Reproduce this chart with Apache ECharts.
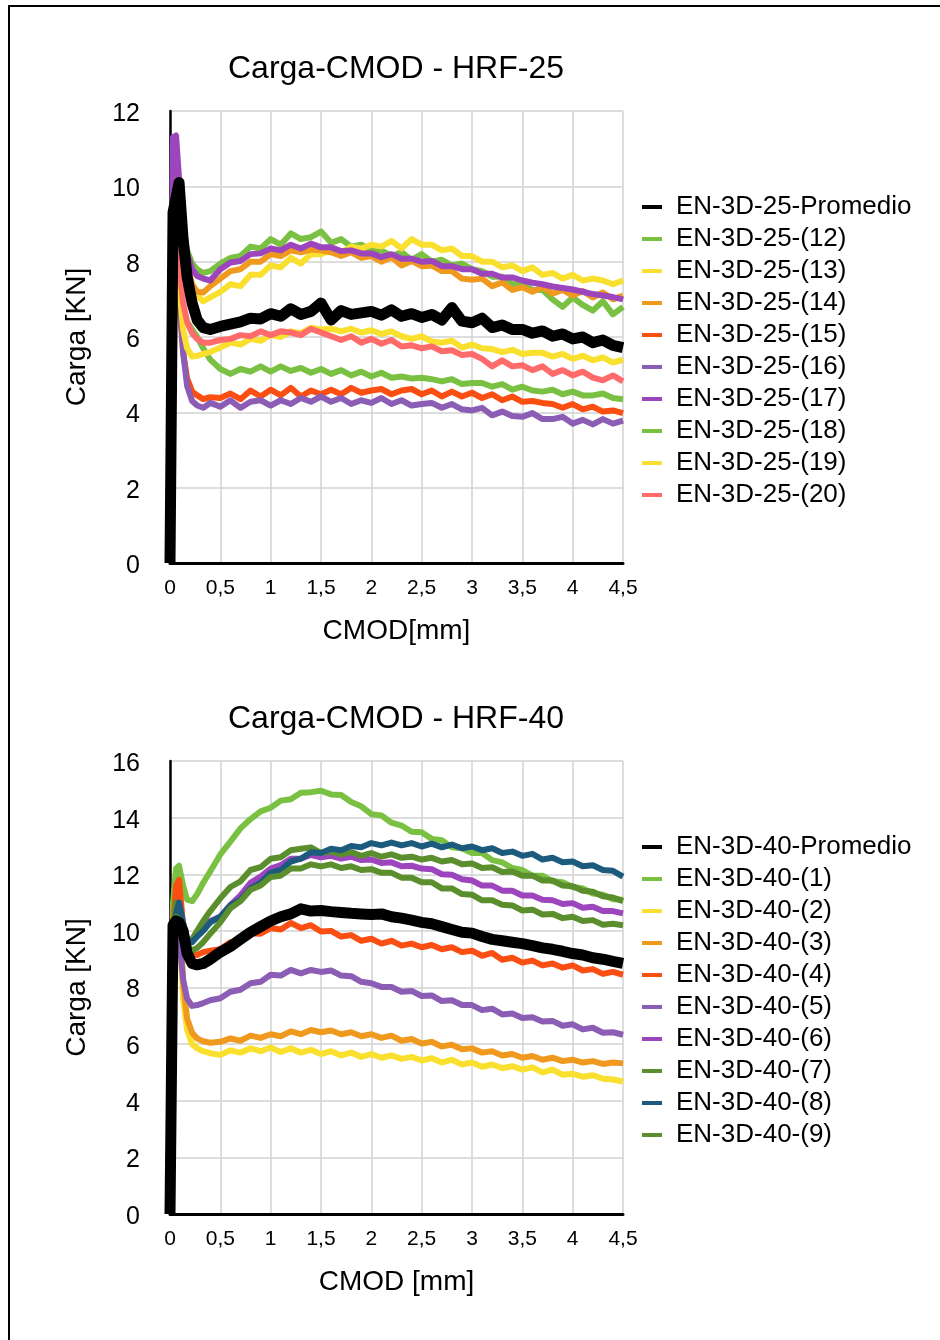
<!DOCTYPE html>
<html><head><meta charset="utf-8">
<script src="https://cdn.jsdelivr.net/npm/echarts@6/dist/echarts.min.js"></script>
<style>html,body{margin:0;padding:0;background:#fff}#c{width:940px;height:1340px}</style>
</head><body><div id="c"></div>
<script>
// CMOD (mm) sample positions shared by all series
const CMOD = [0, 0.03, 0.06, 0.09, 0.13, 0.17, 0.22, 0.27, 0.33, 0.4,
  0.5, 0.6, 0.7, 0.8, 0.9, 1, 1.1, 1.2, 1.3, 1.4,
  1.5, 1.6, 1.7, 1.8, 1.9, 2, 2.1, 2.2, 2.3, 2.4,
  2.5, 2.6, 2.7, 2.8, 2.9, 3, 3.1, 3.2, 3.3, 3.4,
  3.5, 3.6, 3.7, 3.8, 3.9, 4, 4.1, 4.2, 4.3, 4.4,
  4.5];

const X_TICKS = [0, 0.5, 1, 1.5, 2, 2.5, 3, 3.5, 4, 4.5];
const Y_TICKS_25 = [0, 2, 4, 6, 8, 10, 12];
const Y_TICKS_40 = [0, 2, 4, 6, 8, 10, 12, 14, 16];

// ---------- HRF-25 (Carga kN) ----------
const names25 = ['EN-3D-25-Promedio','EN-3D-25-(12)','EN-3D-25-(13)','EN-3D-25-(14)','EN-3D-25-(15)','EN-3D-25-(16)','EN-3D-25-(17)','EN-3D-25-(18)','EN-3D-25-(19)','EN-3D-25-(20)'];
const avg25 = [0, 9.3, 9.7, 10.1, 8.6, 7.6, 6.9, 6.45, 6.25, 6.2,
  6.28, 6.34, 6.4, 6.5, 6.48, 6.62, 6.55, 6.75, 6.6, 6.68,
  6.9, 6.45, 6.7, 6.6, 6.64, 6.68, 6.58, 6.72, 6.55, 6.62,
  6.52, 6.6, 6.45, 6.78, 6.42, 6.38, 6.5, 6.25, 6.32, 6.2,
  6.2, 6.1, 6.16, 6.02, 6.08, 5.95, 6.0, 5.85, 5.92, 5.78,
  5.72];
const s12 = [0, 8.8, 9.8, 9.6, 8.9, 8.3, 7.95, 7.8, 7.7, 7.75,
  7.95, 8.1, 8.15, 8.4, 8.35, 8.6, 8.45, 8.75, 8.6, 8.65,
  8.8, 8.5, 8.6, 8.4, 8.45, 8.3, 8.3, 8.15, 8.25, 8.05,
  8.2, 8.0, 8.05, 7.9, 7.95, 7.8, 7.75, 7.6, 7.6, 7.4,
  7.4, 7.25, 7.25, 7.0, 6.8, 7.05, 6.85, 6.7, 6.95, 6.6,
  6.8];
const s13 = [0, 8.5, 9.6, 9.4, 8.6, 7.8, 7.3, 7.1, 6.95, 7.05,
  7.2, 7.4, 7.35, 7.65, 7.65, 7.9, 7.85, 8.1, 7.95, 8.2,
  8.2, 8.3, 8.25, 8.4, 8.35, 8.45, 8.4, 8.55, 8.35, 8.6,
  8.45, 8.45, 8.3, 8.35, 8.15, 8.15, 8.0, 8.0, 7.85, 7.9,
  7.75, 7.85, 7.65, 7.7, 7.55, 7.65, 7.5, 7.55, 7.5, 7.4,
  7.5];
const s14 = [0, 9.0, 10.2, 9.8, 8.7, 7.9, 7.4, 7.2, 7.18, 7.35,
  7.55, 7.75, 7.8, 8.0, 8.0, 8.2, 8.15, 8.3, 8.25, 8.32,
  8.3, 8.25, 8.15, 8.25, 8.1, 8.15, 8.0, 8.12, 7.9, 8.02,
  7.88, 7.9, 7.75, 7.75, 7.55, 7.52, 7.55, 7.35, 7.45, 7.25,
  7.32, 7.2, 7.32, 7.15, 7.25, 7.1, 7.22, 7.05, 7.18, 7.0,
  7.1];
const s15 = [0, 9.0, 9.6, 7.0, 5.6, 4.9, 4.55, 4.45, 4.35, 4.4,
  4.38, 4.5, 4.35, 4.58, 4.42, 4.6, 4.45, 4.65, 4.42, 4.58,
  4.48, 4.6, 4.48, 4.65, 4.52, 4.58, 4.62, 4.48, 4.58, 4.62,
  4.48, 4.58, 4.42, 4.55, 4.42, 4.52, 4.38, 4.48, 4.32, 4.42,
  4.28, 4.3, 4.25, 4.22, 4.12, 4.22, 4.08, 4.15, 4.02, 4.05,
  3.98];
const s16 = [0, 8.8, 9.5, 7.4, 5.6, 4.7, 4.3, 4.18, 4.12, 4.25,
  4.15, 4.32, 4.12, 4.28, 4.32, 4.18, 4.32, 4.22, 4.38, 4.28,
  4.42, 4.28, 4.38, 4.22, 4.32, 4.25, 4.38, 4.22, 4.32, 4.18,
  4.22, 4.25, 4.12, 4.22, 4.08, 4.05, 4.12, 3.92, 4.02, 3.9,
  3.88, 3.98, 3.82, 3.82, 3.88, 3.7, 3.8, 3.68, 3.82, 3.7,
  3.78];
const s17 = [0, 11.3, 11.35, 10.2, 8.9, 8.2, 7.8, 7.62, 7.55, 7.5,
  7.8, 7.98, 8.02, 8.2, 8.22, 8.35, 8.3, 8.45, 8.35, 8.48,
  8.38, 8.38, 8.28, 8.3, 8.22, 8.22, 8.12, 8.2, 8.08, 8.08,
  8.0, 8.02, 7.88, 7.88, 7.8, 7.8, 7.68, 7.68, 7.58, 7.58,
  7.5, 7.44, 7.4, 7.34, 7.3, 7.26, 7.2, 7.14, 7.1, 7.06,
  7.0];
const s18 = [0, 8.6, 9.5, 7.6, 6.8, 6.4, 6.2, 6.0, 5.7, 5.4,
  5.15, 5.02, 5.15, 5.08, 5.22, 5.08, 5.22, 5.1, 5.18, 5.05,
  5.15, 5.02, 5.12, 4.98, 5.08, 4.95, 5.05, 4.92, 4.95, 4.9,
  4.92, 4.88, 4.82, 4.88, 4.75, 4.78, 4.78, 4.68, 4.75, 4.6,
  4.68, 4.58, 4.55, 4.6, 4.48, 4.55, 4.45, 4.45, 4.5, 4.38,
  4.35];
const s19 = [0, 8.5, 9.3, 7.5, 6.2, 5.7, 5.48, 5.5, 5.55, 5.6,
  5.72, 5.85, 5.8, 5.95, 5.9, 6.05, 6.0, 6.15, 6.1, 6.25,
  6.2, 6.22, 6.15, 6.22, 6.12, 6.18, 6.08, 6.15, 6.02, 5.95,
  6.02, 5.88, 5.85, 5.9, 5.72, 5.8, 5.7, 5.68, 5.6, 5.66,
  5.55, 5.58, 5.58, 5.48, 5.55, 5.42, 5.5, 5.38, 5.46, 5.32,
  5.4];
const s20 = [0, 8.4, 9.2, 8.0, 6.9, 6.4, 6.1, 5.95, 5.85, 5.85,
  5.92, 5.95, 6.05, 6.02, 6.15, 6.05, 6.15, 6.12, 6.05, 6.22,
  6.12, 6.02, 5.92, 6.02, 5.85, 5.95, 5.82, 5.92, 5.75, 5.78,
  5.7, 5.75, 5.62, 5.65, 5.52, 5.55, 5.42, 5.22, 5.38, 5.22,
  5.25, 5.12, 5.22, 5.02, 5.12, 4.98, 5.08, 4.92, 4.85, 4.98,
  4.82];

// ---------- HRF-40 (Carga kN) ----------
const names40 = ['EN-3D-40-Promedio','EN-3D-40-(1)','EN-3D-40-(2)','EN-3D-40-(3)','EN-3D-40-(4)','EN-3D-40-(5)','EN-3D-40-(6)','EN-3D-40-(7)','EN-3D-40-(8)','EN-3D-40-(9)'];
const avg40 = [0, 10.2, 10.35, 10.3, 10.0, 9.2, 8.85, 8.8, 8.85, 9.0,
  9.25, 9.45, 9.7, 9.95, 10.15, 10.35, 10.5, 10.6, 10.78, 10.7,
  10.72, 10.68, 10.65, 10.62, 10.6, 10.58, 10.6, 10.5, 10.45, 10.38,
  10.3, 10.25, 10.15, 10.05, 9.95, 9.92, 9.8, 9.7, 9.65, 9.6,
  9.55, 9.48, 9.4, 9.35, 9.28, 9.2, 9.15, 9.05, 9.0, 8.92,
  8.85];
const g1 = [0, 11.0, 12.2, 12.3, 11.6, 11.1, 11.05, 11.3, 11.7, 12.1,
  12.7, 13.15, 13.62, 13.95, 14.22, 14.35, 14.6, 14.65, 14.88, 14.9,
  14.95, 14.82, 14.8, 14.55, 14.4, 14.12, 14.08, 13.82, 13.72, 13.5,
  13.48, 13.25, 13.2, 12.95, 12.92, 12.75, 12.75, 12.5, 12.42, 12.22,
  12.15, 11.95, 11.95, 11.75, 11.72, 11.55, 11.5, 11.32, 11.28, 11.12,
  11.1];
const g2 = [0, 9.2, 10.8, 10.6, 7.6, 6.5, 6.0, 5.85, 5.75, 5.68,
  5.62, 5.78, 5.7, 5.85, 5.75, 5.88, 5.72, 5.85, 5.7, 5.8,
  5.65, 5.75, 5.6, 5.7, 5.55, 5.65, 5.52, 5.6, 5.48, 5.55,
  5.42, 5.5, 5.35, 5.45, 5.28, 5.35, 5.2, 5.28, 5.15, 5.22,
  5.1, 5.18, 5.0, 5.1, 4.92, 4.95, 4.85, 4.9, 4.78, 4.75,
  4.68];
const g3 = [0, 9.5, 11.2, 11.4, 8.2, 6.9, 6.4, 6.2, 6.1, 6.05,
  6.08, 6.2, 6.12, 6.3, 6.22, 6.35, 6.28, 6.45, 6.35, 6.5,
  6.42, 6.48, 6.35, 6.42, 6.28, 6.35, 6.22, 6.3, 6.12, 6.18,
  6.02, 6.08, 5.92, 5.98, 5.82, 5.85, 5.7, 5.75, 5.6, 5.65,
  5.52, 5.58, 5.45, 5.52, 5.4, 5.45, 5.35, 5.4, 5.3, 5.35,
  5.32];
const g4 = [0, 10.0, 11.6, 11.8, 10.2, 9.4, 9.2, 9.15, 9.25, 9.3,
  9.35, 9.6, 9.62, 9.92, 9.9, 10.1, 10.05, 10.28, 10.1, 10.2,
  9.98, 10.0, 9.8, 9.85, 9.65, 9.72, 9.55, 9.65, 9.48, 9.55,
  9.42, 9.5, 9.35, 9.42, 9.25, 9.3, 9.12, 9.22, 8.98, 9.05,
  8.88, 8.95, 8.78, 8.85, 8.7, 8.78, 8.6, 8.65, 8.48, 8.55,
  8.45];
const g5 = [0, 9.0, 10.5, 9.8, 8.3, 7.6, 7.35, 7.38, 7.45, 7.55,
  7.62, 7.85, 7.92, 8.15, 8.2, 8.45, 8.42, 8.62, 8.5, 8.62,
  8.55, 8.6, 8.42, 8.4, 8.2, 8.15, 8.02, 8.02, 7.85, 7.88,
  7.7, 7.72, 7.52, 7.55, 7.38, 7.38, 7.2, 7.25, 7.05, 7.08,
  6.92, 6.95, 6.8, 6.82, 6.65, 6.7, 6.52, 6.58, 6.4, 6.42,
  6.33];
const g6 = [0, 9.6, 10.8, 10.6, 10.0, 9.6, 9.7, 9.9, 10.1, 10.35,
  10.5, 10.92, 11.25, 11.7, 11.92, 12.2, 12.32, 12.55, 12.55, 12.68,
  12.6, 12.65, 12.55, 12.62, 12.5, 12.52, 12.4, 12.42, 12.28, 12.3,
  12.2, 12.18, 12.0, 11.98, 11.82, 11.78, 11.6, 11.6, 11.42, 11.42,
  11.25, 11.25, 11.1, 11.08, 10.95, 10.98, 10.82, 10.85, 10.7, 10.7,
  10.62];
const g7 = [0, 9.8, 11.0, 10.8, 10.0, 9.6, 9.7, 10.0, 10.35, 10.7,
  11.15, 11.55, 11.75, 12.15, 12.25, 12.55, 12.6, 12.85, 12.9, 12.95,
  12.75, 12.8, 12.7, 12.78, 12.65, 12.75, 12.62, 12.7, 12.58, 12.62,
  12.52, 12.58, 12.45, 12.5, 12.35, 12.38, 12.22, 12.25, 12.08, 12.1,
  11.95, 11.95, 11.78, 11.78, 11.6, 11.58, 11.42, 11.38, 11.22, 11.18,
  11.05];
const g8 = [0, 9.5, 10.6, 11.0, 10.3, 9.7, 9.6, 9.8, 10.0, 10.3,
  10.5, 10.9, 11.1, 11.5, 11.7, 12.05, 12.15, 12.45, 12.55, 12.78,
  12.75, 12.9, 12.85, 13.0, 12.95, 13.1, 13.02, 13.12, 13.02, 13.1,
  12.98, 13.08, 12.95, 13.05, 12.92, 12.98, 12.85, 12.92, 12.75, 12.8,
  12.65, 12.72, 12.52, 12.58, 12.42, 12.45, 12.28, 12.32, 12.15, 12.12,
  11.92];
const g9 = [0, 9.4, 10.5, 10.4, 9.9, 9.5, 9.3, 9.4, 9.6, 9.9,
  10.3, 10.8, 11.05, 11.45, 11.6, 11.9, 11.95, 12.2, 12.2, 12.35,
  12.28, 12.35, 12.22, 12.28, 12.15, 12.18, 12.05, 12.05, 11.88, 11.88,
  11.72, 11.72, 11.5, 11.5, 11.3, 11.28, 11.08, 11.08, 10.92, 10.9,
  10.72, 10.75, 10.58, 10.6, 10.45, 10.5, 10.35, 10.38, 10.22, 10.25,
  10.2];

const C = {
  black: '#000000', green: '#7ac143', yellow: '#f9e02e', orange: '#ef9a1f',
  red: '#fb4e12', purple: '#8b5db5', magenta: '#9d45bc', salmon: '#ff6b6b',
  olive: '#5b8e2d', teal: '#1c5b7d'
};
const FONT = '"Liberation Sans", Arial, Helvetica, sans-serif';
const fmt = v => String(v).replace('.', ',');

function mk(name, vals, color, gi, w, z) {
  return {
    name, type: 'line', xAxisIndex: gi, yAxisIndex: gi,
    data: CMOD.map((x, i) => [x, vals[i]]),
    symbol: 'none', showSymbol: false,
    lineStyle: { color, width: w, join: 'round' },
    itemStyle: { color },
    z, animation: false, silent: true
  };
}

function xAx(gi, name) {
  return {
    gridIndex: gi, type: 'value', min: 0, max: 4.5, interval: 0.5,
    axisLine: { show: true, lineStyle: { color: '#000', width: 3 } },
    axisTick: { show: false },
    axisLabel: { formatter: fmt, fontSize: 21, color: '#000', margin: 15, fontFamily: FONT },
    splitLine: { show: true, lineStyle: { color: '#d2d2d2', width: 1.5 } },
    name, nameLocation: 'middle', nameGap: 54,
    nameTextStyle: { fontSize: 28, color: '#000', fontFamily: FONT }
  };
}
function yAx(gi, ticks) {
  return {
    gridIndex: gi, type: 'value', min: ticks[0], max: ticks[ticks.length - 1], interval: ticks[1] - ticks[0],
    axisLine: { show: true, lineStyle: { color: '#000', width: 2.5 } },
    axisTick: { show: false },
    axisLabel: {
      color: '#000', margin: 30,
      formatter: v => '{t|' + v + '}',
      rich: { t: { fontSize: 25, color: '#000', fontFamily: FONT, padding: [6, 0, 0, 0] } }
    },
    splitLine: { show: true, lineStyle: { color: '#d2d2d2', width: 1.5 } },
    name: 'Carga [KN]', nameLocation: 'middle', nameGap: 79,
    nameTextStyle: { fontSize: 28, color: '#000', fontFamily: FONT }
  };
}
function lg(top, data) {
  return {
    orient: 'vertical', left: 637, top, data, icon: 'rect',
    itemWidth: 20, itemHeight: 4, itemGap: 6, selectedMode: false,
    textStyle: { fontSize: 26, lineHeight: 26, color: '#000', fontFamily: FONT, padding: [0, 0, 0, 9] }
  };
}

const LW = 6, BW = 11;
const series = [
  mk(names25[1], s12, C.green, 0, LW, 3),
  mk(names25[2], s13, C.yellow, 0, LW, 3),
  mk(names25[3], s14, C.orange, 0, LW, 3),
  mk(names25[4], s15, C.red, 0, LW, 3),
  mk(names25[5], s16, C.purple, 0, LW, 3),
  mk(names25[6], s17, C.magenta, 0, LW, 3),
  mk(names25[7], s18, C.green, 0, LW, 3),
  mk(names25[8], s19, C.yellow, 0, LW, 3),
  mk(names25[9], s20, C.salmon, 0, LW, 3),
  mk(names25[0], avg25, C.black, 0, BW, 4),
  mk(names40[1], g1, C.green, 1, LW, 3),
  mk(names40[2], g2, C.yellow, 1, LW, 3),
  mk(names40[3], g3, C.orange, 1, LW, 3),
  mk(names40[4], g4, C.red, 1, LW, 3),
  mk(names40[5], g5, C.purple, 1, LW, 3),
  mk(names40[6], g6, C.magenta, 1, LW, 3),
  mk(names40[7], g7, C.olive, 1, LW, 3),
  mk(names40[8], g8, C.teal, 1, LW, 3),
  mk(names40[9], g9, C.olive, 1, LW, 3),
  mk(names40[0], avg40, C.black, 1, BW, 4)
];

const chart = echarts.init(document.getElementById('c'), null, { renderer: 'canvas' });
chart.setOption({
  animation: false,
  backgroundColor: '#fff',
  textStyle: { fontFamily: FONT },
  grid: [
    { left: 170, top: 111, width: 453, height: 452 },
    { left: 170, top: 761, width: 453, height: 453 }
  ],
  xAxis: [xAx(0, 'CMOD[mm]'), xAx(1, 'CMOD [mm]')],
  yAxis: [yAx(0, Y_TICKS_25), yAx(1, Y_TICKS_40)],
  legend: [lg(189, names25), lg(829, names40)],
  graphic: [
    { type: 'rect', silent: true, shape: { x: 9, y: 6, width: 1000, height: 1500 },
      style: { fill: 'none', stroke: '#000', lineWidth: 2 } },
    { type: 'text', silent: true, x: 396, y: 69,
      style: { text: 'Carga-CMOD - HRF-25', fontSize: 32, fontFamily: FONT, fill: '#000', align: 'center', verticalAlign: 'middle' } },
    { type: 'text', silent: true, x: 396, y: 719,
      style: { text: 'Carga-CMOD - HRF-40', fontSize: 32, fontFamily: FONT, fill: '#000', align: 'center', verticalAlign: 'middle' } }
  ],
  series
});
</script>
</body></html>
